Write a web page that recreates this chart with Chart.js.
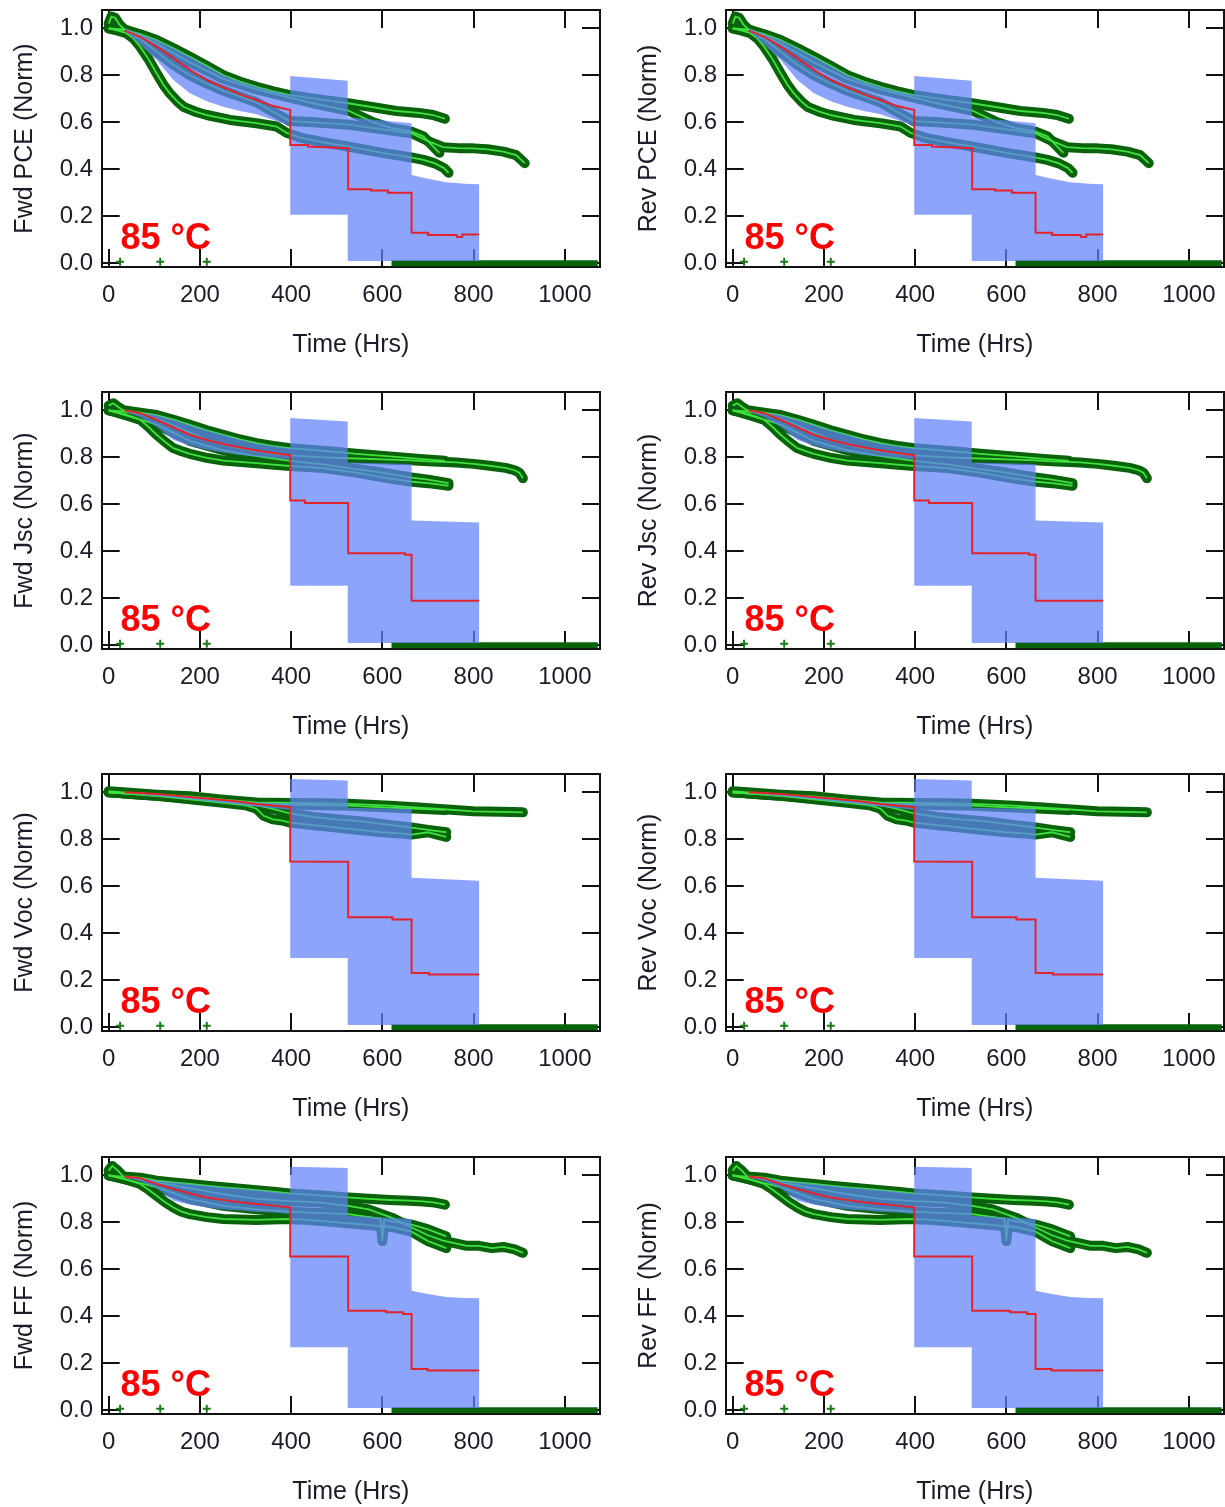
<!DOCTYPE html>
<html>
<head>
<meta charset="utf-8">
<script src="https://cdn.jsdelivr.net/npm/chart.js@4.4.1/dist/chart.umd.min.js"></script>
<style>
  html, body { margin: 0; padding: 0; background: #fff; overflow: hidden; }
  #hoja { position: relative; width: 1225px; height: 1507px; overflow: hidden; background: #fff; }
  .panel { position: absolute; width: 601px; height: 382px; overflow: hidden; }
</style>
</head>
<body>
<div id="hoja"></div>
<script>
// Ejes
const ticksX = [0, 200, 400, 600, 800, 1000];
const ticksY = [0, 0.2, 0.4, 0.6, 0.8, 1.0];
const etiquetasY = ['0.0', '0.2', '0.4', '0.6', '0.8', '1.0'];
const tituloX = 'Time (Hrs)';
const textoTemp = '85 °C';
const posTemp = [26, 0.061];

// Comunes a todos los paneles: dispositivo que cae a cero y puntos sueltos
const dispCero = [[620, 0.0], [1072, 0.0]];
const puntosSueltos = [[25, 0.006], [113, 0.006], [215, 0.006]];

// PCE
const pceDispA = [[0,1.02],[6,1.05],[14,1.045],[24,1.015],[35,0.995],[69,0.975],[105,0.95],[142,0.915],[178,0.879],[215,0.84],[251,0.801],[288,0.773],[324,0.751],[361,0.732],[397,0.716],[435,0.705],[470,0.695],[525,0.681],[580,0.664],[631,0.648],[680,0.64],[711,0.631],[737,0.615]];
const pceDispB = [[0,1.0],[20,0.99],[39,0.979],[55,0.955],[69,0.922],[87,0.87],[105,0.809],[120,0.76],[134,0.723],[150,0.69],[164,0.666],[190,0.645],[215,0.631],[266,0.61],[324,0.596],[368,0.582],[390,0.555],[420,0.535],[470,0.515],[530,0.495],[600,0.47],[664,0.45],[690,0.44],[715,0.425],[735,0.405],[745,0.385]];
const pceDispC = [[0,1.0],[35,0.99],[69,0.955],[105,0.9],[142,0.845],[178,0.8],[215,0.765],[251,0.735],[288,0.71],[324,0.685],[360,0.645],[397,0.605],[450,0.6],[525,0.59],[600,0.57],[664,0.553],[700,0.52],[733,0.494],[766,0.49],[799,0.489],[830,0.485],[865,0.475],[893,0.46],[912,0.426]];
const pceDispD = [[0,1.0],[35,0.995],[105,0.935],[178,0.855],[251,0.785],[324,0.74],[397,0.705],[450,0.68],[525,0.65],[580,0.6],[620,0.575],[664,0.56],[690,0.54],[710,0.5],[725,0.47]];
const pceBandaSup = [[35,1.0],[69,0.975],[105,0.95],[142,0.915],[178,0.879],[215,0.84],[251,0.801],[288,0.773],[324,0.751],[361,0.732],[398,0.716],[398,0.797],[524,0.777],[524,0.621],[664,0.596],[664,0.376],[700,0.36],[740,0.345],[780,0.338],[812,0.336]];
const pceBandaInf = [[35,0.99],[69,0.93],[105,0.865],[142,0.78],[178,0.724],[215,0.69],[251,0.666],[288,0.648],[324,0.634],[361,0.61],[398,0.585],[398,0.206],[524,0.206],[524,0.01],[664,0.01],[812,0.01]];
const pceMedia = [[35,0.99],[69,0.964],[105,0.922],[142,0.872],[178,0.823],[215,0.78],[251,0.749],[288,0.719],[324,0.695],[361,0.669],[398,0.652],[398,0.503],[437,0.503],[437,0.497],[525,0.49],[525,0.315],[575,0.315],[575,0.31],[612,0.31],[612,0.3],[664,0.3],[664,0.13],[700,0.13],[700,0.12],[763,0.12],[763,0.112],[775,0.112],[775,0.122],[812,0.122]];

// Jsc
const jscDispA = [[0,1.02],[10,1.03],[20,1.015],[32,1.0],[69,0.99],[105,0.98],[142,0.96],[178,0.938],[215,0.915],[251,0.896],[288,0.876],[324,0.86],[361,0.848],[397,0.839],[470,0.828],[543,0.815],[616,0.804],[689,0.792],[737,0.785]];
const jscDispB = [[0,1.0],[35,0.985],[69,0.96],[87,0.93],[105,0.896],[124,0.865],[142,0.839],[160,0.826],[178,0.815],[215,0.798],[251,0.786],[324,0.775],[390,0.764],[470,0.754],[543,0.735],[600,0.715],[660,0.697],[700,0.69],[745,0.679]];
const jscDispC = [[0,1.0],[35,0.995],[69,0.985],[105,0.965],[142,0.935],[178,0.905],[215,0.875],[251,0.855],[288,0.838],[324,0.825],[361,0.815],[397,0.808],[470,0.8],[543,0.795],[616,0.79],[664,0.787],[700,0.783],[762,0.778],[800,0.772],[835,0.764],[870,0.755],[890,0.745],[900,0.735],[908,0.711]];
const jscDispD = [[0,1.0],[105,0.94],[178,0.87],[251,0.83],[324,0.805],[397,0.785],[470,0.77],[543,0.75],[600,0.735],[660,0.715],[700,0.705],[745,0.69]];
const jscBandaSup = [[35,1.0],[69,0.99],[105,0.98],[142,0.96],[178,0.938],[215,0.915],[251,0.896],[288,0.876],[324,0.86],[361,0.848],[398,0.839],[398,0.967],[524,0.952],[524,0.778],[664,0.772],[664,0.531],[812,0.523]];
const jscBandaInf = [[35,0.995],[69,0.97],[105,0.93],[142,0.874],[178,0.85],[215,0.832],[251,0.82],[288,0.81],[324,0.803],[361,0.797],[398,0.79],[398,0.253],[524,0.253],[524,0.01],[664,0.01],[812,0.01]];
const jscMedia = [[35,1.0],[69,0.988],[105,0.96],[142,0.927],[178,0.896],[215,0.874],[251,0.857],[288,0.842],[324,0.829],[361,0.818],[398,0.809],[398,0.616],[430,0.616],[430,0.605],[525,0.605],[525,0.392],[650,0.392],[650,0.385],[664,0.385],[664,0.189],[812,0.189]];

// Voc
const vocDispA = [[0,1.005],[32,1.0],[105,0.99],[178,0.983],[251,0.969],[324,0.957],[397,0.955],[470,0.953],[525,0.951],[616,0.943],[680,0.935],[726,0.929],[799,0.919],[860,0.917],[908,0.915]];
const vocDispB = [[0,1.0],[105,0.985],[178,0.975],[251,0.962],[324,0.952],[397,0.948],[470,0.945],[525,0.943],[616,0.935],[680,0.93],[737,0.925]];
const vocDispC = [[0,1.0],[69,0.99],[105,0.985],[178,0.97],[251,0.955],[300,0.945],[324,0.93],[340,0.9],[360,0.885],[380,0.88],[400,0.87],[450,0.86],[500,0.85],[550,0.84],[600,0.83],[640,0.825],[664,0.82],[700,0.83],[720,0.82],[740,0.81]];
const vocDispD = [[0,1.0],[105,0.988],[178,0.978],[251,0.963],[324,0.945],[360,0.93],[397,0.91],[450,0.895],[500,0.885],[560,0.875],[620,0.86],[664,0.85],[700,0.84],[740,0.83]];
const vocBandaSup = [[35,1.0],[105,0.99],[178,0.983],[251,0.969],[324,0.957],[398,0.952],[398,1.057],[524,1.05],[524,0.934],[664,0.929],[664,0.636],[812,0.624]];
const vocBandaInf = [[35,0.997],[105,0.983],[178,0.97],[251,0.955],[324,0.94],[398,0.925],[398,0.295],[524,0.295],[524,0.01],[664,0.01],[812,0.01]];
const vocMedia = [[35,1.0],[69,0.997],[105,0.993],[142,0.987],[178,0.98],[215,0.974],[251,0.967],[288,0.96],[324,0.95],[361,0.944],[398,0.937],[398,0.706],[525,0.704],[525,0.468],[622,0.468],[622,0.459],[664,0.459],[664,0.231],[702,0.231],[702,0.224],[812,0.224]];

// FF
const ffDispA = [[0,1.02],[8,1.04],[20,1.02],[32,0.995],[69,0.99],[105,0.977],[142,0.97],[178,0.963],[215,0.956],[251,0.949],[288,0.943],[324,0.937],[361,0.93],[397,0.923],[460,0.915],[525,0.906],[570,0.9],[616,0.895],[660,0.892],[689,0.889],[715,0.884],[737,0.875]];
const ffDispB = [[0,1.0],[35,0.985],[69,0.963],[87,0.94],[105,0.913],[124,0.885],[142,0.863],[160,0.845],[178,0.835],[215,0.822],[251,0.814],[324,0.81],[390,0.814],[440,0.81],[500,0.8],[560,0.79],[620,0.78],[664,0.76],[700,0.72],[740,0.69]];
const ffDispC = [[0,1.0],[50,0.99],[105,0.97],[178,0.945],[251,0.92],[324,0.9],[397,0.89],[460,0.885],[525,0.87],[570,0.855],[620,0.82],[664,0.778],[700,0.745],[733,0.722],[760,0.71],[785,0.7],[812,0.7],[840,0.69],[865,0.695],[890,0.685],[908,0.67]];
const ffDispD = [[0,1.0],[105,0.95],[178,0.9],[251,0.87],[324,0.855],[397,0.845],[460,0.84],[525,0.835],[580,0.82],[596,0.815],[600,0.72],[604,0.81],[664,0.79],[700,0.77],[740,0.74]];
const ffBandaSup = [[35,0.995],[69,0.99],[105,0.977],[142,0.97],[178,0.963],[215,0.956],[251,0.949],[288,0.943],[324,0.937],[361,0.93],[398,0.923],[398,1.037],[524,1.031],[524,0.828],[664,0.814],[664,0.509],[700,0.495],[740,0.482],[780,0.478],[812,0.477]];
const ffBandaInf = [[35,0.99],[69,0.975],[105,0.945],[142,0.892],[178,0.875],[215,0.863],[251,0.855],[288,0.85],[324,0.845],[361,0.842],[398,0.835],[398,0.268],[524,0.268],[524,0.01],[664,0.01],[812,0.01]];
const ffMedia = [[35,0.995],[69,0.988],[105,0.963],[142,0.942],[178,0.923],[215,0.906],[251,0.895],[288,0.885],[324,0.878],[361,0.871],[398,0.863],[398,0.654],[525,0.654],[525,0.424],[608,0.424],[608,0.417],[645,0.417],[645,0.41],[664,0.41],[664,0.176],[699,0.176],[699,0.169],[812,0.169]];

const series = {
  pce: { disp: [pceDispA, pceDispB, pceDispC, pceDispD], sup: pceBandaSup, inf: pceBandaInf, media: pceMedia },
  jsc: { disp: [jscDispA, jscDispB, jscDispC, jscDispD], sup: jscBandaSup, inf: jscBandaInf, media: jscMedia },
  voc: { disp: [vocDispA, vocDispB, vocDispC, vocDispD], sup: vocBandaSup, inf: vocBandaInf, media: vocMedia },
  ff:  { disp: [ffDispA, ffDispB, ffDispC, ffDispD], sup: ffBandaSup, inf: ffBandaInf, media: ffMedia }
};

const paneles = [
  { fila: 0, col: 0, tipo: 'pce', titulo: 'Fwd PCE (Norm)' },
  { fila: 0, col: 1, tipo: 'pce', titulo: 'Rev PCE (Norm)' },
  { fila: 1, col: 0, tipo: 'jsc', titulo: 'Fwd Jsc (Norm)' },
  { fila: 1, col: 1, tipo: 'jsc', titulo: 'Rev Jsc (Norm)' },
  { fila: 2, col: 0, tipo: 'voc', titulo: 'Fwd Voc (Norm)' },
  { fila: 2, col: 1, tipo: 'voc', titulo: 'Rev Voc (Norm)' },
  { fila: 3, col: 0, tipo: 'ff', titulo: 'Fwd FF (Norm)' },
  { fila: 3, col: 1, tipo: 'ff', titulo: 'Rev FF (Norm)' }
];

(function(){
  const verdeOscuro = '#0a620a';
  const verdeClaro = '#3ee03e';
  const azulBanda = 'rgba(95,130,250,0.72)';
  const rojoMedia = '#e2232c';
  const colorTexto = '#1c1c28';
  const familia = '"Liberation Sans", Arial, sans-serif';

  const aXY = (pts) => pts.map(p => ({ x: p[0], y: p[1] }));

  // texto "85 °C" ubicado con las escalas
  const etiquetaTemp = {
    id: 'etiquetaTemp',
    afterDatasetsDraw(chart) {
      const { ctx, scales } = chart;
      ctx.save();
      ctx.font = 'bold 36px ' + familia;
      ctx.fillStyle = '#f00';
      ctx.textBaseline = 'alphabetic';
      ctx.textAlign = 'left';
      ctx.fillText(textoTemp, scales.x.getPixelForValue(posTemp[0]), scales.y.getPixelForValue(posTemp[1]));
      ctx.restore();
    }
  };

  const armarDatasets = (s) => {
    const ds = [];
    s.disp.forEach(d => {
      ds.push({ data: aXY(d), borderColor: verdeOscuro, borderWidth: 10, borderCapStyle: 'round', borderJoinStyle: 'round', pointRadius: 0, order: 6 });
    });
    ds.push({ data: aXY(dispCero), borderColor: verdeOscuro, borderWidth: 6, pointRadius: 0, order: 6 });
    ds.push({ data: aXY(puntosSueltos), showLine: false, pointStyle: 'cross', pointRadius: 4, pointBorderWidth: 2, pointBorderColor: '#1a7a1a', order: 6 });
    s.disp.forEach(d => {
      ds.push({ data: aXY(d), borderColor: verdeClaro, borderWidth: 1.8, pointRadius: 0, order: 4 });
    });
    // banda: contorno superior ida, inferior vuelta
    const poligono = s.sup.concat(s.inf.slice().reverse());
    ds.push({ data: aXY(poligono), fill: 'shape', backgroundColor: azulBanda, borderColor: 'rgba(0,0,0,0)', borderWidth: 0, pointRadius: 0, order: 2 });
    ds.push({ data: aXY(s.media), borderColor: rojoMedia, borderWidth: 2, pointRadius: 0, order: 1 });
    return ds;
  };

  const gridInterno = { drawOnChartArea: false, drawTicks: true, tickLength: -18, color: '#111', lineWidth: 2 };
  const borde = { color: '#111', width: 2 };
  const fijarTicksX = (s) => { s.ticks = ticksX.map(v => ({ value: v })); };
  const fijarTicksY = (s) => { s.ticks = ticksY.map(v => ({ value: v })); };
  // tamaños fijos para que el area de dibujo quede donde va
  const fijarAlto = (alto) => (s) => { s.height = alto; s.paddingLeft = 0; s.paddingRight = 0; s.paddingTop = 0; s.paddingBottom = 0; };
  const fijarAncho = (ancho) => (s) => { s.width = ancho; s.paddingLeft = 0; s.paddingRight = 0; s.paddingTop = 0; s.paddingBottom = 0; };

  const crearPanel = (p) => {
    const caja = document.createElement('div');
    caja.className = 'panel';
    caja.style.left = (p.col * 624) + 'px';
    caja.style.top = Math.round(p.fila * 382.2) + 'px';
    const lienzo = document.createElement('canvas');
    lienzo.width = 608;
    lienzo.height = 382;
    caja.appendChild(lienzo);
    document.getElementById('hoja').appendChild(caja);

    new Chart(lienzo, {
      type: 'line',
      data: { datasets: armarDatasets(series[p.tipo]) },
      plugins: [etiquetaTemp],
      options: {
        responsive: false,
        animation: false,
        events: [],
        devicePixelRatio: 1,
        layout: { padding: { top: 10, right: 8, left: 0, bottom: 0 } },
        plugins: { legend: { display: false }, tooltip: { enabled: false } },
        scales: {
          x: {
            type: 'linear', position: 'bottom', min: -15.3, max: 1077,
            afterBuildTicks: fijarTicksX,
            afterFit: fijarAlto(115),
            ticks: { padding: 31.6, color: colorTexto, font: { family: familia, size: 24 }, maxRotation: 0, autoSkip: false, callback: (v) => String(v) },
            grid: gridInterno, border: borde,
            title: { display: true, text: tituloX, color: colorTexto, font: { family: familia, size: 25 }, padding: { top: 0, bottom: 22 } }
          },
          x2: {
            type: 'linear', position: 'top', min: -15.3, max: 1077,
            afterBuildTicks: fijarTicksX,
            afterFit: fijarAlto(0),
            ticks: { display: false }, grid: gridInterno, border: borde
          },
          y: {
            type: 'linear', position: 'left', min: -0.016, max: 1.078,
            afterBuildTicks: fijarTicksY,
            afterFit: fijarAncho(101.7),
            ticks: { padding: 26.7, color: colorTexto, font: { family: familia, size: 24 }, callback: (v) => etiquetasY[ticksY.indexOf(v)] },
            grid: gridInterno, border: borde,
            title: { display: true, text: p.titulo, color: colorTexto, font: { family: familia, size: 25 }, padding: { top: 10, bottom: 0 } }
          },
          y2: {
            type: 'linear', position: 'right', min: -0.016, max: 1.078,
            afterBuildTicks: fijarTicksY,
            afterFit: fijarAncho(0),
            ticks: { display: false }, grid: gridInterno, border: borde
          }
        }
      }
    });
  };

  paneles.forEach(crearPanel);
})();
</script>
</body>
</html>
